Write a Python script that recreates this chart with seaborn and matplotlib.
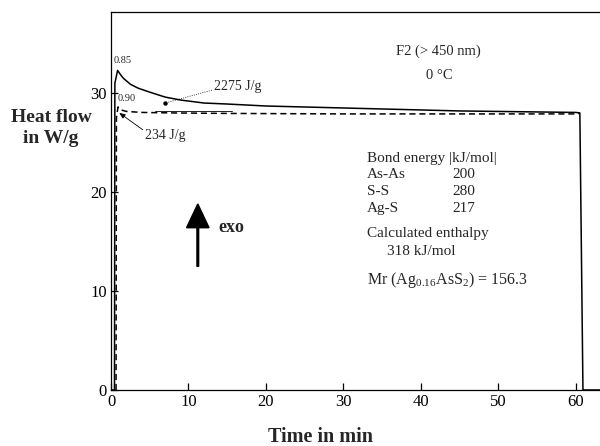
import matplotlib
matplotlib.use("Agg")
import matplotlib.pyplot as plt
import seaborn as sns
import pandas as pd

# Heat-flow traces (time in min, heat flow in W/g)
solid_time = [0.0, 0.45, 0.5, 0.85, 1.2, 1.6, 2.5, 3.5, 5.0, 7.0, 9.0, 12.0, 15.0,
              20.0, 25.0, 30.0, 35.0, 40.0, 45.0, 50.0, 55.0, 60.0, 60.5, 60.9, 64.0]
solid_flow = [0.0, 0.0, 31.0, 32.3, 31.9, 31.5, 30.9, 30.5, 30.1, 29.6, 29.3, 29.0, 28.9,
              28.7, 28.6, 28.5, 28.4, 28.3, 28.2, 28.15, 28.1, 28.05, 28.0, 0.0, 0.0]

dashed_time = [0.65, 0.7, 0.9, 1.3, 2.0, 4.0, 8.0, 15.0, 30.0, 45.0, 60.0, 60.5]
dashed_flow = [0.0, 27.5, 28.6, 28.3, 28.15, 28.05, 28.0, 27.95, 27.9, 27.9, 27.9, 27.95]

baseline_time = [5.7, 15.6]
baseline_flow = [28.2, 28.2]

x_ticks = [0, 10, 20, 30, 40, 50, 60]
y_ticks = [0, 10, 20, 30]

bond_names = ["As-As", "S-S", "Ag-S"]
bond_values = [200, 280, 217]

sns.set_style("ticks")
plt.rcParams["font.family"] = ["Liberation Serif", "DejaVu Serif"]
plt.rcParams["mathtext.fontset"] = "custom"
plt.rcParams["mathtext.rm"] = "Liberation Serif"
plt.rcParams["mathtext.default"] = "regular"

fig = plt.figure(figsize=(6.0, 4.46), dpi=100)
ax = fig.add_axes([111 / 600, 56 / 446, 489 / 600, 378 / 446])

solid_df = pd.DataFrame({"t": solid_time, "q": solid_flow})
dashed_df = pd.DataFrame({"t": dashed_time, "q": dashed_flow})
base_df = pd.DataFrame({"t": baseline_time, "q": baseline_flow})

sns.lineplot(data=solid_df, x="t", y="q", ax=ax, color="black", lw=1.1,
             sort=False, estimator=None)
sns.lineplot(data=dashed_df, x="t", y="q", ax=ax, color="black", lw=1.1,
             linestyle=(0, (4, 2.5)), sort=False, estimator=None)
sns.lineplot(data=base_df, x="t", y="q", ax=ax, color="black", lw=0.6,
             sort=False, estimator=None)

ax.set_xlim(0, 63.1)
ax.set_ylim(0, 38.2)
ax.set_xticks(x_ticks)
ax.set_yticks(y_ticks)
ax.tick_params(direction="in", length=5, width=0.9, labelsize=12, pad=3,
               colors="black")
for side in ("left", "bottom", "top"):
    ax.spines[side].set_linewidth(0.9)
    ax.spines[side].set_color("black")
ax.spines["right"].set_visible(False)
ax.set_xlabel("")
ax.set_ylabel("")

# Axis titles
fig.text(51 / 600, 1 - 128 / 446, "Heat flow\nin W/g", ha="center", va="center",
         fontsize=14, fontweight="bold", linespacing=1.3)
fig.text(321 / 600, 1 - 437 / 446, "Time in min", ha="center", va="center",
         fontsize=14.5, fontweight="bold")

# Peak labels and integrated heats
ax.text(0.3, 33.3, "0.85", fontsize=7.5, va="center", ha="left")
ax.text(0.85, 29.5, "0.90", fontsize=7.5, va="center", ha="left")
ax.text(13.3, 30.7, "2275 J/g", fontsize=10, va="center", ha="left")
ax.plot([13.0, 7.0], [30.3, 29.0], color="black", lw=0.6, ls=":")
ax.plot([7.0], [29.0], marker="o", ms=2.2, color="black")
ax.text(4.4, 25.7, "234 J/g", fontsize=10, va="center", ha="left")
ax.annotate("", xy=(1.07, 28.0), xytext=(4.1, 26.3),
            arrowprops=dict(arrowstyle="-|>,head_length=0.35,head_width=0.15",
                            color="black", lw=0.6, shrinkA=0, shrinkB=0))

# Exothermic direction arrow
ax.arrow(11.2, 12.5, 0, 3.9, width=0.22, head_width=2.9, head_length=2.4,
         length_includes_head=False, color="black")
ax.text(13.8, 16.4, "exo", fontsize=13, fontweight="bold", va="center", ha="left")

# Experiment description
ax.text(42.3, 34.2, "F2 (> 450 nm)", fontsize=10.5, ha="center", va="center")
ax.text(42.4, 31.8, "0 °C", fontsize=10.5, ha="center", va="center")

ax.text(33.0, 23.4, "Bond energy |kJ/mol|", fontsize=11, va="center", ha="left")
for i, (name, val) in enumerate(zip(bond_names, bond_values)):
    y = 21.8 - i * 1.75
    ax.text(33.0, y, name, fontsize=11, va="center", ha="left")
    ax.text(44.0, y, str(val), fontsize=11, va="center", ha="left")

ax.text(33.0, 15.8, "Calculated enthalpy", fontsize=11, va="center", ha="left")
ax.text(35.6, 14.0, "318 kJ/mol", fontsize=11, va="center", ha="left")
ax.text(33.0, 11.1, r"Mr (Ag$_{0.16}$AsS$_{2}$) = 156.3", fontsize=11.5,
        va="center", ha="left")

fig.savefig("out.png", dpi=100)
